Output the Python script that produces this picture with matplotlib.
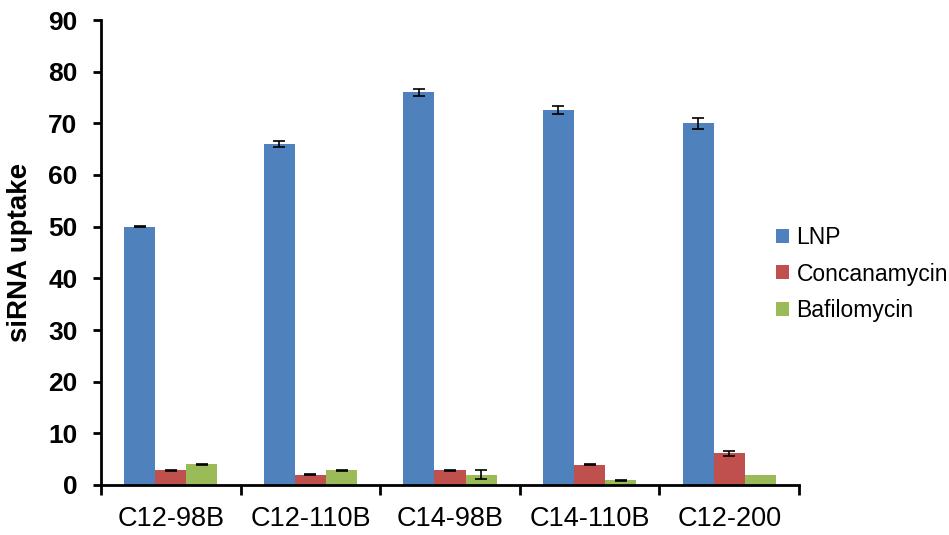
import matplotlib.pyplot as plt
import numpy as np

plt.rcParams['font.family'] = ['Liberation Sans', 'DejaVu Sans']

categories = ['C12-98B', 'C12-110B', 'C14-98B', 'C14-110B', 'C12-200']
lnp = [50.0, 66.0, 76.0, 72.6, 70.0]
lnp_err = [0.15, 0.5, 0.7, 0.8, 1.0]
conc = [2.9, 2.0, 2.9, 3.9, 6.1]
conc_err = [0.1, 0.05, 0.1, 0.1, 0.5]
bafi = [4.0, 2.9, 2.0, 0.9, 2.0]
bafi_err = [0.15, 0.1, 0.9, 0.1, np.nan]

series = [('LNP', lnp, lnp_err, '#4F81BD'),
          ('Concanamycin', conc, conc_err, '#C0504D'),
          ('Bafilomycin', bafi, bafi_err, '#9BBB59')]

fig = plt.figure(figsize=(9.49, 5.35), dpi=100)
ax = fig.add_axes([101/949, 50/535, 698/949, 465/535])

x = np.arange(len(categories))
w = 0.223
for i, (name, vals, errs, col) in enumerate(series):
    ax.bar(x + (i - 1) * w, vals, w, color=col, label=name,
           yerr=errs, error_kw=dict(ecolor='black', elinewidth=1.2, capsize=4, capthick=1.2))

ax.set_xlim(-0.5, len(categories) - 0.5)
ax.set_ylim(0, 90)
ax.set_yticks(np.arange(0, 91, 10))
ax.set_xticks(x)
ax.set_xticklabels(categories, fontsize=19.5)
ax.set_xticks(np.arange(-0.5, len(categories), 1), minor=True)
ax.tick_params(axis='x', which='major', length=0, pad=15)
ax.tick_params(axis='x', which='minor', length=7, width=2, direction='out')
ax.tick_params(axis='y', length=6, width=2, direction='out', labelsize=19, pad=11)
for lab in ax.get_yticklabels():
    lab.set_fontweight('bold')
ax.set_ylabel('siRNA uptake', fontsize=20, fontweight='bold')
ax.yaxis.set_label_coords(-0.097, 0.5)

ax.spines['top'].set_visible(False)
ax.spines['right'].set_visible(False)
ax.spines['left'].set_linewidth(2)
ax.spines['bottom'].set_linewidth(2)

ax.legend(loc='center left', bbox_to_anchor=(776/949, 1 - 274/535),
          bbox_transform=fig.transFigure, frameon=False, fontsize=16.5,
          handlelength=0.55, handleheight=0.55, handletextpad=0.35,
          labelspacing=0.6, borderpad=0, borderaxespad=0)

fig.savefig('out.png', dpi=100)
